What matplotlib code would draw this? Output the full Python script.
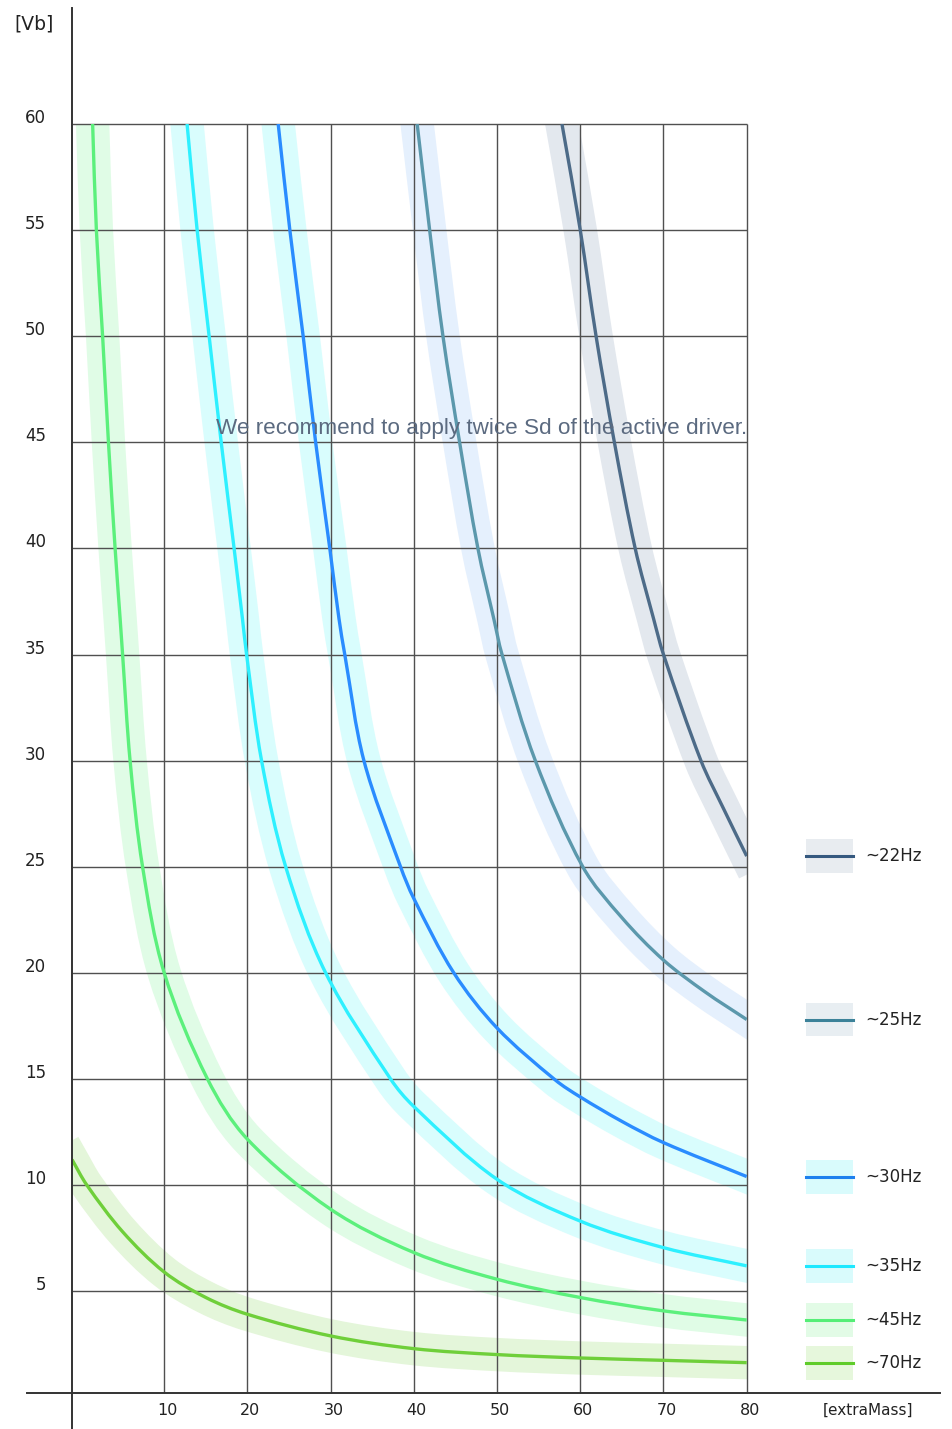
import matplotlib
matplotlib.use("Agg")
import numpy as np
import matplotlib.pyplot as plt
from matplotlib.transforms import offset_copy
from matplotlib.patches import Rectangle, PathPatch
from matplotlib.path import Path
from matplotlib.lines import Line2D

# ---------------- data ----------------
labels = ["~22Hz", "~25Hz", "~30Hz", "~35Hz", "~45Hz", "~70Hz"]

hz22_x = [57.8, 60.0, 61.9, 64.1, 66.6, 68.8, 70.0, 74.5, 77.2, 80.0]
hz22_y = [60, 55, 50, 45, 40, 36.7, 35, 30, 27.75, 25.5]

hz25_x = [40.4, 41.9, 43.5, 45.5, 47.7, 49.6, 50.6, 54.6, 60.3, 65.0, 70.0, 75.0, 80.0]
hz25_y = [60, 55, 50, 45, 40, 36.7, 35, 30, 25, 22.6, 20.6, 19.1, 17.8]

hz30_x = [23.7, 25.1, 26.7, 28.2, 29.9, 31.0, 31.7, 34.0, 38.4, 40.0, 44.8, 50.0, 57.0, 60.0, 65.0, 70.0, 80.0]
hz30_y = [60, 55, 50, 45, 40, 36.7, 35, 30, 25, 23.5, 20, 17.4, 14.95, 14.15, 13.0, 12.0, 10.4]

hz35_x = [12.75, 13.96, 15.4, 16.85, 18.4, 19.4, 19.9, 21.7, 24.6, 29.4, 37.2, 40.0, 50.0, 60.0, 70.0, 80.0]
hz35_y = [60, 55, 50, 45, 40, 36.7, 35, 30, 25, 20, 15, 13.7, 10.27, 8.3, 7.05, 6.19]

hz45_x = [1.4, 1.85, 2.6, 3.3, 4.1, 4.7, 5.0, 5.9, 7.4, 10.0, 15.2, 20, 30, 40, 50, 60, 70, 80]
hz45_y = [60, 55, 50, 45, 40, 36.7, 35, 30, 25, 20, 15, 12.16, 8.86, 6.82, 5.56, 4.70, 4.07, 3.64]

hz70_x = [-1.08, 0.7, 5, 10, 15, 20, 30, 40, 50, 60, 70, 80]
hz70_y = [11.2, 10.0, 7.8, 5.9, 4.70, 3.91, 2.89, 2.29, 2.01, 1.85, 1.74, 1.63]

x_ticks = [10, 20, 30, 40, 50, 60, 70, 80]
y_ticks = [5, 10, 15, 20, 25, 30, 35, 40, 45, 50, 55, 60]

series_x = [hz22_x, hz25_x, hz30_x, hz35_x, hz45_x, hz70_x]
series_y = [hz22_y, hz25_y, hz30_y, hz35_y, hz45_y, hz70_y]

# ---------------- styles ----------------
line_colors = ["#4d6b88", "#5b98ac", "#2a8cff", "#2ef0ff", "#5cf07c", "#6fcf3a"]
band_colors = ["#e3e8ee", "#e5f0fd", "#d9fdfd", "#d9fdfd", "#e0fce6", "#e4f6da"]
patch_colors = ["#e8ecf0", "#e8eef2", "#d9fbfc", "#d9fbfc", "#e2fbe6", "#e6f7dc"]
legend_line_colors = ["#35597f", "#3c8299", "#1e80ee", "#1ee8ff", "#55ee77", "#5fcc2a"]

W, H = 952, 1429
fig = plt.figure(figsize=(W / 100, H / 100), dpi=100)
ax_left, ax_right, ax_top, ax_bottom = 72, 746.7, 124, 1393
ax = fig.add_axes([ax_left / W, 1 - ax_bottom / H, (ax_right - ax_left) / W, (ax_bottom - ax_top) / H])
XMIN, XMAX, YMIN, YMAX = -1.08, 80, 0.2, 60
ax.set_xlim(XMIN, XMAX)
ax.set_ylim(YMIN, YMAX)
ax.set_axis_off()

SX = (ax_right - ax_left) / (XMAX - XMIN)
SY = (ax_bottom - ax_top) / (YMAX - YMIN)


def smooth_path(xs, ys):
    """Bezier path through the read points (chord-length Catmull-Rom)."""
    P = np.column_stack([xs, ys]).astype(float)
    Q = P * np.array([SX, SY])
    d = np.sqrt(((Q[1:] - Q[:-1]) ** 2).sum(axis=1))
    t = np.concatenate([[0], np.cumsum(d)])
    n = len(P)
    M = np.zeros_like(P)
    M[0] = (P[1] - P[0]) / (t[1] - t[0])
    M[-1] = (P[-1] - P[-2]) / (t[-1] - t[-2])
    for i in range(1, n - 1):
        M[i] = (P[i + 1] - P[i - 1]) / (t[i + 1] - t[i - 1])
    verts = [P[0]]
    codes = [Path.MOVETO]
    for i in range(n - 1):
        h = t[i + 1] - t[i]
        verts += [P[i] + M[i] * h / 3, P[i + 1] - M[i + 1] * h / 3, P[i + 1]]
        codes += [Path.CURVE4] * 3
    return Path(verts, codes)


# grid
grid_c = "#505050"
ax.hlines(y_ticks, XMIN, XMAX, colors=grid_c, lw=1.0, zorder=2, clip_on=False)
ax.vlines(x_ticks, YMIN, YMAX, colors=grid_c, lw=1.0, zorder=2, clip_on=False)

# bands and curves
for xs, ys, lc, bc in zip(series_x, series_y, line_colors, band_colors):
    path = smooth_path(xs, ys)
    ax.add_patch(PathPatch(path, fill=False, edgecolor=bc, lw=24,
                           capstyle="projecting", joinstyle="round", zorder=1))
    ax.add_patch(PathPatch(path, fill=False, edgecolor=lc, lw=2.4,
                           capstyle="butt", joinstyle="round", zorder=3))

# legend at curve ends
for ys, lab, pc, llc in zip(series_y, labels, patch_colors, legend_line_colors):
    yv = ys[-1]
    ax.add_patch(Rectangle((87.1, yv - 0.8), 5.7, 1.6, facecolor=pc,
                           edgecolor="none", clip_on=False, zorder=3))
    ax.plot([87.1, 92.8], [yv, yv], color=llc, lw=2.2, clip_on=False, zorder=4)
    ax.text(94.3, yv, lab, fontsize=12, color="#222222", va="center", ha="left",
            family="DejaVu Sans")

# tick labels
xt = offset_copy(ax.transData, fig=fig, x=3, y=-22, units="dots")
for xv in x_ticks:
    ax.text(xv, YMIN, str(xv), transform=xt, ha="center", va="baseline",
            fontsize=11.5, color="#222222", clip_on=False)
yt = offset_copy(ax.transData, fig=fig, x=-26, y=1, units="dots")
for yv in y_ticks:
    ax.text(XMIN, yv, str(yv), transform=yt, ha="right", va="baseline",
            fontsize=12, color="#222222", clip_on=False)

# annotation
ax.text(80, 45.38, "We recommend to apply twice Sd of the active driver.",
        ha="right", va="baseline", fontsize=16.2, color="#5b6a80",
        family="Liberation Sans", zorder=5)

# axis lines (cross style)
fig.add_artist(Line2D([27 / W, 940 / W], [1 - 1393 / H] * 2, color="#333333", lw=1.4))
fig.add_artist(Line2D([72 / W] * 2, [1 - 8 / H, 0], color="#333333", lw=1.4))

# axis titles
fig.text(14 / W, 1 - 29 / H, "[Vb]", fontsize=13.5, color="#222222", ha="left", va="baseline")
fig.text(823 / W, 1 - 1415 / H, "[extraMass]", fontsize=11, color="#222222",
         ha="left", va="baseline")

fig.savefig("out.png", dpi=100)
